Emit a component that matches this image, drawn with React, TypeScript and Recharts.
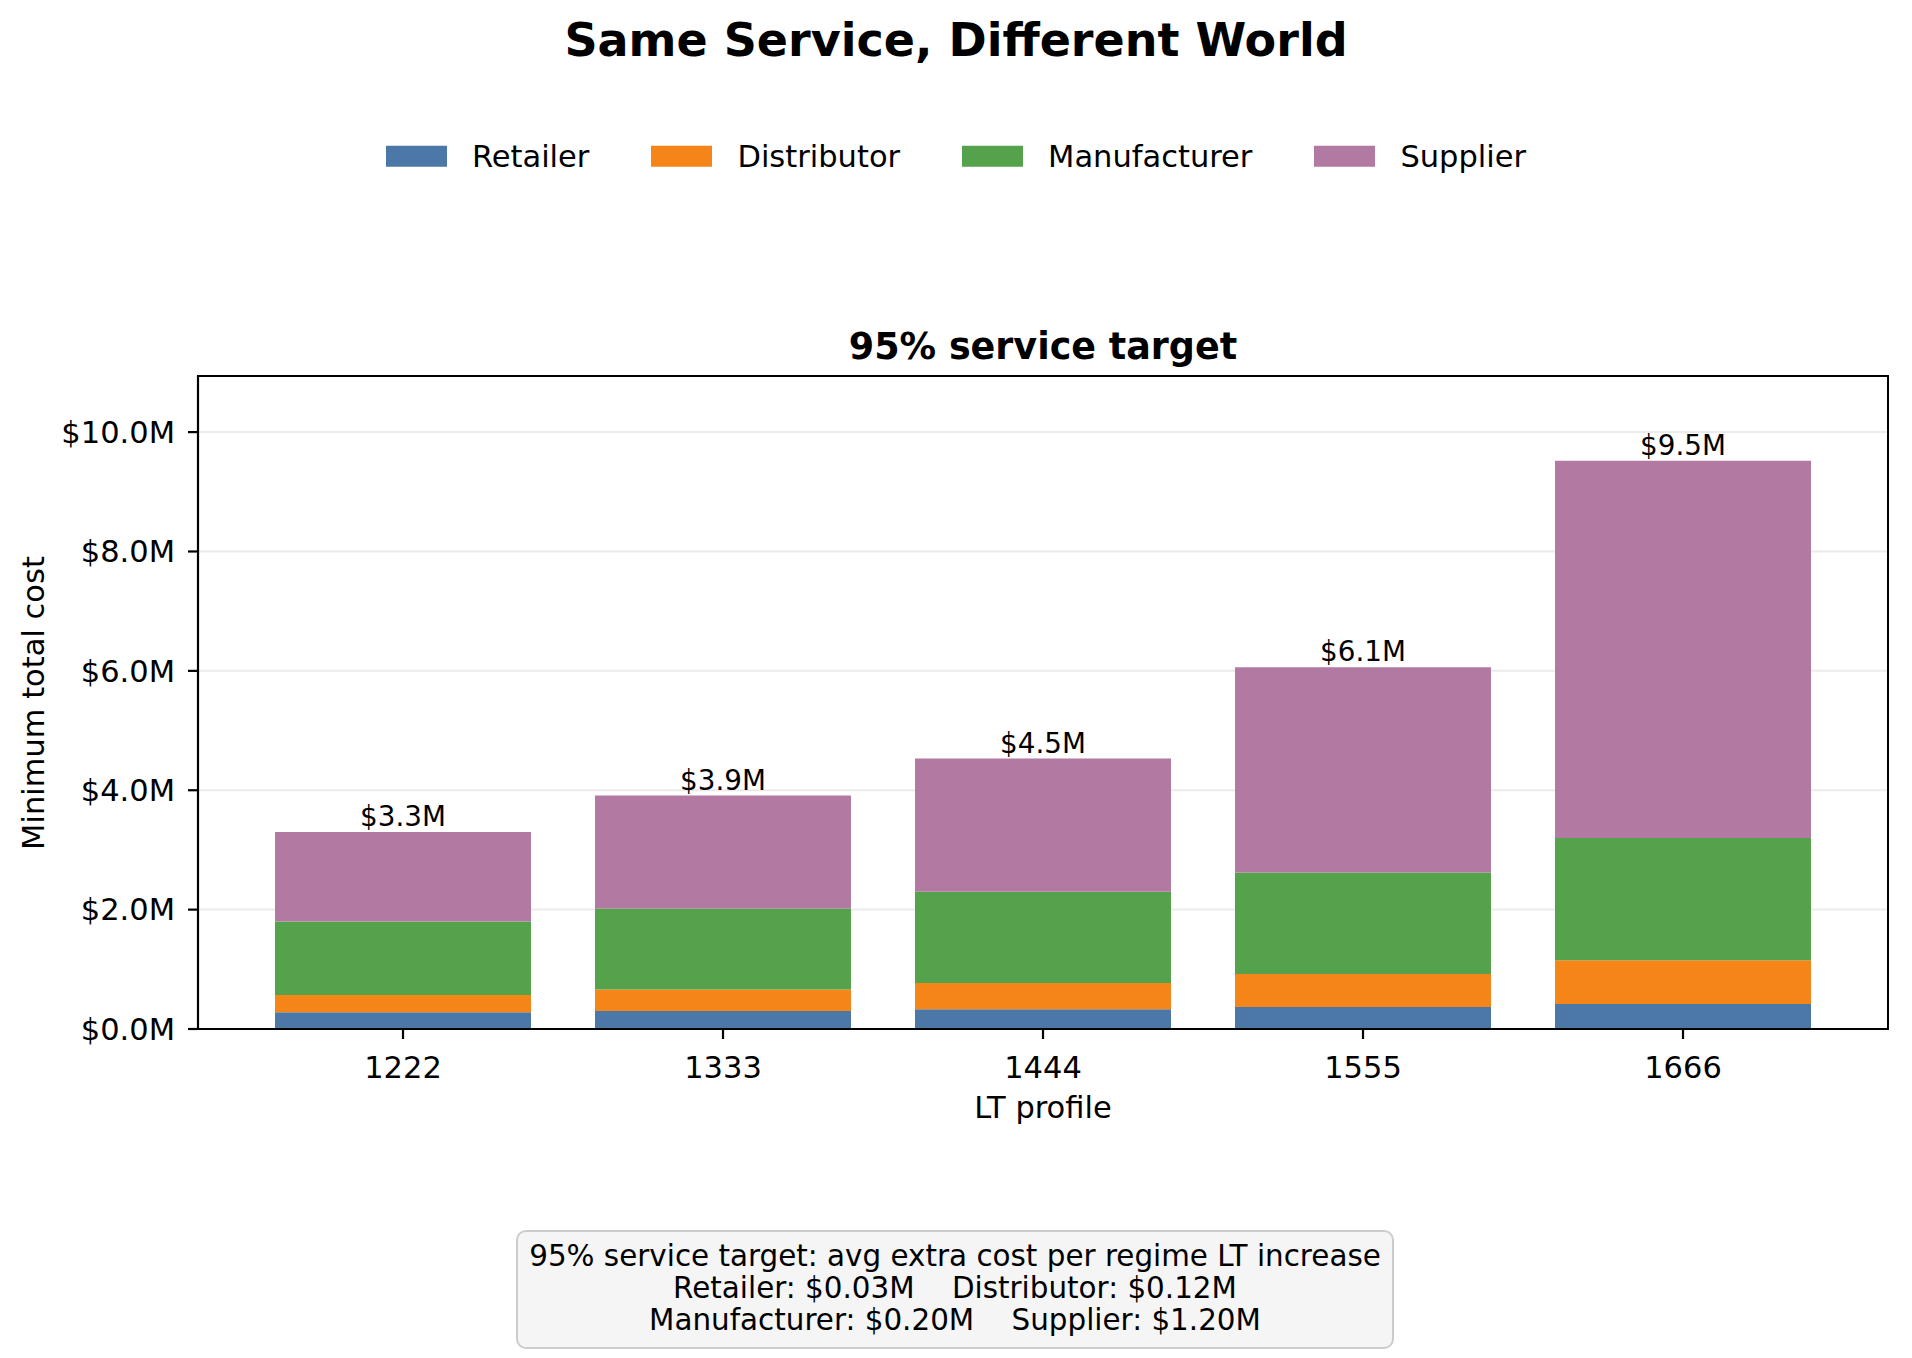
import { BarChart, Bar, XAxis, YAxis, CartesianGrid, LabelList } from 'recharts';

const profiles = ['1222', '1333', '1444', '1555', '1666'];
const retailer = [0.28, 0.30, 0.33, 0.37, 0.42];
const distributor = [0.29, 0.36, 0.44, 0.55, 0.73];
const manufacturer = [1.23, 1.36, 1.53, 1.70, 2.05];
const supplier = [1.50, 1.89, 2.23, 3.44, 6.32];
const yTicks = [0, 2, 4, 6, 8, 10];

const series = [
  { key: 'retailer', name: 'Retailer', color: '#4C78A8' },
  { key: 'distributor', name: 'Distributor', color: '#F58518' },
  { key: 'manufacturer', name: 'Manufacturer', color: '#54A24B' },
  { key: 'supplier', name: 'Supplier', color: '#B279A2' },
];

const data = profiles.map((p, i) => ({
  profile: p,
  retailer: retailer[i],
  distributor: distributor[i],
  manufacturer: manufacturer[i],
  supplier: supplier[i],
  total: retailer[i] + distributor[i] + manufacturer[i] + supplier[i],
}));

const FONT = '"DejaVu Sans", sans-serif';
const tickFont = { fill: '#000', fontSize: 30.5, fontFamily: FONT };

// plot frame in page pixels
const PLOT = { left: 198, top: 376, right: 1888, bottom: 1029 };

export default function App() {
  return (
    <div
      style={{
        position: 'absolute',
        left: 0,
        top: 0,
        width: 1912,
        height: 1358,
        background: '#fff',
        fontFamily: FONT,
        color: '#000',
        overflow: 'hidden',
      }}
    >
      <div
        style={{
          position: 'absolute',
          left: 956,
          top: 40,
          transform: 'translate(-50%, -50%)',
          fontSize: 46,
          fontWeight: 700,
          lineHeight: 1,
          whiteSpace: 'nowrap',
        }}
      >
        Same Service, Different World
      </div>

      {/* legend */}
      <div
        style={{
          position: 'absolute',
          left: 0,
          width: 1912,
          top: 156.5,
          transform: 'translateY(-50%)',
          display: 'flex',
          justifyContent: 'center',
          alignItems: 'center',
          gap: 62,
          fontSize: 30.5,
          lineHeight: 1,
        }}
      >
        {series.map((s) => (
          <div key={s.key} style={{ display: 'flex', alignItems: 'center' }}>
            <div style={{ width: 61, height: 21, background: s.color, marginRight: 25 }} />
            <span>{s.name}</span>
          </div>
        ))}
      </div>

      <div
        style={{
          position: 'absolute',
          left: 1043,
          top: 347,
          transform: 'translate(-50%, -50%)',
          fontSize: 36.5,
          fontWeight: 700,
          lineHeight: 1,
          whiteSpace: 'nowrap',
        }}
      >
        95% service target
      </div>

      <div style={{ position: 'absolute', left: 0, top: 0 }}>
        <BarChart
          width={1912}
          height={1358}
          data={data}
          margin={{ top: PLOT.top, right: 1912 - PLOT.right, bottom: 269, left: 68 }}
        >
          <CartesianGrid vertical={false} stroke="#ebebeb" strokeWidth={2} />
          <XAxis
            dataKey="profile"
            height={60}
            padding={{ left: 45, right: 45 }}
            tick={tickFont}
            tickSize={10}
            tickMargin={17}
            axisLine={{ stroke: '#000', strokeWidth: 2.2 }}
            tickLine={{ stroke: '#000', strokeWidth: 2.2 }}
          />
          <YAxis
            width={130}
            domain={[0, 10.94]}
            ticks={yTicks}
            tick={tickFont}
            tickSize={10}
            tickMargin={13}
            tickFormatter={(v: number) => `$${v.toFixed(1)}M`}
            axisLine={{ stroke: '#000', strokeWidth: 2.2 }}
            tickLine={{ stroke: '#000', strokeWidth: 2.2 }}
          />
          {series.map((s) => (
            <Bar
              key={s.key}
              dataKey={s.key}
              name={s.name}
              stackId="cost"
              fill={s.color}
              barSize={256}
              isAnimationActive={false}
            >
              {s.key === 'supplier' && (
                <LabelList
                  dataKey="total"
                  position="top"
                  offset={6}
                  formatter={(v: number) => `$${v.toFixed(1)}M`}
                  style={{ fill: '#000', fontSize: 27.8, fontFamily: FONT }}
                />
              )}
            </Bar>
          ))}
        </BarChart>
      </div>

      {/* full box frame (top and right spines) */}
      <div
        style={{
          position: 'absolute',
          left: PLOT.left - 1.1,
          top: PLOT.top - 1.1,
          width: PLOT.right - PLOT.left + 2.2,
          height: PLOT.bottom - PLOT.top + 2.2,
          boxSizing: 'border-box',
          border: '2.2px solid #000',
          pointerEvents: 'none',
        }}
      />

      <div
        style={{
          position: 'absolute',
          left: 34,
          top: 703,
          transform: 'translate(-50%, -50%) rotate(-90deg)',
          fontSize: 30.5,
          lineHeight: 1,
          whiteSpace: 'nowrap',
        }}
      >
        Minimum total cost
      </div>
      <div
        style={{
          position: 'absolute',
          left: 1043,
          top: 1108,
          transform: 'translate(-50%, -50%)',
          fontSize: 30.5,
          lineHeight: 1,
          whiteSpace: 'nowrap',
        }}
      >
        LT profile
      </div>

      {/* summary box */}
      <div
        style={{
          position: 'absolute',
          left: 516,
          top: 1230,
          width: 878,
          height: 119,
          boxSizing: 'border-box',
          background: '#f5f5f5',
          border: '2px solid #cccccc',
          borderRadius: 10,
          paddingTop: 8,
          textAlign: 'center',
          fontSize: 29.4,
          lineHeight: '32px',
          whiteSpace: 'pre',
        }}
      >
        <div>95% service target: avg extra cost per regime LT increase</div>
        <div>{'Retailer: $0.03M    Distributor: $0.12M'}</div>
        <div>{'Manufacturer: $0.20M    Supplier: $1.20M'}</div>
      </div>
    </div>
  );
}
